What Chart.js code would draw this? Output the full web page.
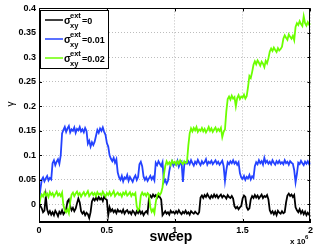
<!DOCTYPE html>
<html>
<head>
<meta charset="utf-8">
<script src="https://cdn.jsdelivr.net/npm/chart.js@4"></script>
<style>
  html, body { margin: 0; padding: 0; background: #fff; }
  #chartContainer { width: 316px; height: 248px; }
</style>
</head>
<body>
<div id="chartContainer"><canvas id="myChart" width="316" height="248"></canvas></div>
<script>
// sweep axis sampled every 0.01 (x 10^6 sweeps)
const sweepStep = 0.01;

// gamma for sigma_xy^ext = 0
const black = [
  0.002,-0.003,-0.008,-0.016,-0.013,0.016,-0.010,-0.019,-0.014,-0.021,
  -0.016,-0.022,-0.013,-0.018,-0.024,-0.015,-0.019,-0.012,-0.020,-0.016,
  -0.010,0.006,0.010,-0.004,-0.012,-0.007,-0.014,-0.009,0.002,0.012,
  0.004,-0.014,-0.019,-0.015,-0.022,-0.017,-0.020,-0.028,-0.016,0.006,
  0.012,0.008,0.014,0.009,0.015,0.010,0.013,0.007,0.016,0.011,
  0.009,-0.022,-0.006,-0.014,-0.010,-0.016,-0.012,-0.018,-0.011,-0.015,
  -0.013,-0.017,-0.011,-0.019,-0.014,-0.012,-0.018,-0.015,-0.020,-0.013,
  -0.016,-0.021,-0.014,-0.018,-0.012,-0.019,-0.015,-0.022,-0.017,-0.014,
  -0.018,0.012,0.018,0.014,0.020,0.016,0.019,0.013,0.017,0.015,
  0.010,-0.022,-0.018,-0.014,-0.019,-0.016,-0.021,-0.013,-0.017,-0.015,
  -0.019,-0.014,-0.018,-0.012,-0.017,-0.020,-0.015,-0.018,-0.013,-0.019,
  -0.016,-0.021,-0.014,-0.017,-0.019,-0.015,-0.018,-0.020,-0.016,0.014,
  0.018,0.013,0.019,0.015,0.021,0.016,0.012,0.018,0.014,0.020,
  0.015,0.019,0.013,0.017,0.020,0.014,0.018,0.016,0.012,0.019,
  0.015,0.013,0.017,0.012,-0.004,-0.008,-0.005,-0.010,-0.006,-0.003,
  0.012,0.018,0.015,-0.006,-0.011,-0.008,0.010,0.017,0.013,0.019,
  0.014,0.018,0.012,0.016,0.020,0.013,0.017,0.015,0.019,0.010,
  -0.012,-0.018,-0.014,-0.020,-0.015,-0.022,-0.013,-0.017,-0.019,-0.014,
  -0.018,-0.016,0.004,0.018,0.022,0.017,0.020,0.015,0.019,-0.006,
  -0.012,-0.016,-0.010,-0.018,-0.013,-0.020,-0.015,-0.022,-0.017,-0.021,
  -0.025
];

// gamma for sigma_xy^ext = 0.01
const blue = [
  0.005,0.030,0.050,0.055,0.047,0.053,0.058,0.049,0.054,0.051,
  0.084,0.090,0.080,0.087,0.092,0.083,0.100,0.145,0.152,0.158,
  0.148,0.155,0.160,0.147,0.153,0.150,0.157,0.146,0.154,0.151,
  0.158,0.149,0.153,0.147,0.156,0.150,0.124,0.130,0.118,0.127,
  0.121,0.128,0.140,0.152,0.146,0.155,0.150,0.157,0.148,0.142,
  0.125,0.118,0.100,0.093,0.088,0.095,0.085,0.092,0.065,0.055,
  0.050,0.058,0.047,0.055,0.052,0.060,0.048,0.056,0.051,0.046,
  0.054,0.059,0.050,0.056,0.082,0.087,0.078,0.057,0.050,0.055,
  0.048,0.053,0.058,0.051,0.056,0.049,0.085,0.080,0.088,0.083,
  0.078,0.086,0.045,0.050,0.042,0.048,0.068,0.082,0.088,0.079,
  0.085,0.081,0.089,0.077,0.084,0.087,0.046,0.080,0.086,0.083,
  0.088,0.082,0.090,0.084,0.079,0.087,0.083,0.091,0.085,0.080,
  0.088,0.083,0.086,0.092,0.081,0.087,0.084,0.089,0.082,0.086,
  0.090,0.083,0.087,0.081,0.085,0.089,0.078,0.048,0.070,0.086,
  0.082,0.088,0.084,0.090,0.083,0.087,0.081,0.086,0.064,0.055,
  0.052,0.058,0.050,0.056,0.053,0.060,0.051,0.057,0.054,0.078,
  0.086,0.082,0.090,0.084,0.088,0.081,0.095,0.085,0.089,0.083,
  0.087,0.082,0.090,0.085,0.081,0.088,0.084,0.089,0.083,0.086,
  0.082,0.090,0.084,0.087,0.081,0.088,0.085,0.083,0.070,0.045,
  0.062,0.085,0.082,0.089,0.084,0.080,0.087,0.083,0.088,0.082,
  0.085
];

// gamma for sigma_xy^ext = 0.02
const green = [
  -0.005,0.012,0.020,0.016,0.024,0.018,0.022,0.015,0.025,0.019,
  0.023,0.016,0.021,0.026,0.018,0.022,0.017,0.024,-0.002,-0.012,
  -0.016,-0.010,-0.018,0.005,0.020,0.024,0.017,0.022,0.026,0.019,
  0.023,0.016,0.021,0.025,0.018,0.022,0.027,0.017,0.021,0.024,
  0.019,0.023,0.017,0.025,0.020,0.022,0.018,0.026,0.021,0.016,
  0.023,0.019,0.025,0.018,0.022,0.027,0.017,0.021,0.024,0.019,
  0.022,0.016,0.024,0.020,0.026,0.018,0.021,0.025,0.017,0.022,
  0.019,0.023,-0.004,-0.012,-0.008,0.018,0.024,0.019,0.022,0.017,
  0.023,0.020,-0.006,-0.015,-0.010,-0.018,0.004,0.018,0.023,0.019,
  0.024,0.035,0.060,0.078,0.088,0.082,0.086,0.080,0.089,0.084,
  0.087,0.081,0.088,0.083,0.090,0.085,0.082,0.088,0.084,0.086,
  0.120,0.145,0.155,0.149,0.156,0.151,0.158,0.148,0.153,0.150,
  0.156,0.149,0.154,0.147,0.152,0.158,0.150,0.155,0.148,0.153,
  0.157,0.149,0.154,0.150,0.156,0.137,0.148,0.153,0.190,0.215,
  0.220,0.214,0.222,0.216,0.219,0.200,0.217,0.223,0.215,0.220,
  0.218,0.224,0.216,0.221,0.240,0.262,0.258,0.270,0.285,0.292,
  0.286,0.294,0.289,0.283,0.291,0.287,0.280,0.293,0.288,0.298,
  0.312,0.318,0.313,0.320,0.315,0.311,0.319,0.314,0.317,0.322,
  0.338,0.345,0.340,0.336,0.347,0.342,0.338,0.344,0.335,0.362,
  0.370,0.366,0.374,0.368,0.364,0.384,0.370,0.365,0.372,0.367,
  0.369
];

const seriesNames = ['=0', '=0.01', '=0.02'];
const xTicks = [0, 0.5, 1, 1.5, 2];
const xTickLabels = ['0', '0.5', '1', '1.5', '2'];
const yTicks = [0, 0.05, 0.1, 0.15, 0.2, 0.25, 0.3, 0.35, 0.4];
const yTickLabels = ['0', '0.05', '0.1', '0.15', '0.2', '0.25', '0.3', '0.35', '0.4'];

const colors = ['#000000', '#2442ff', '#6cff00'];
const tickFont = { family: 'Liberation Sans, Arial, sans-serif', size: 9, weight: 'bold' };

function toPoints(values) {
  return values.map((v, i) => ({ x: +(i * sweepStep).toFixed(2), y: v }));
}

// Box, inward tick marks, legend and axis titles like a MATLAB figure
const decorations = {
  id: 'decorations',
  afterDraw(chart) {
    const ctx = chart.ctx;
    const a = chart.chartArea;
    const xs = chart.scales.x, ys = chart.scales.y;
    ctx.save();
    ctx.strokeStyle = '#000';
    ctx.lineWidth = 1;
    ctx.strokeRect(Math.round(a.left) + 0.5, Math.round(a.top) + 0.5,
      Math.round(a.right - a.left) - 1, Math.round(a.bottom - a.top) - 1);

    ctx.beginPath();
    xTicks.forEach(t => {
      const px = Math.round(xs.getPixelForValue(t)) + 0.5;
      ctx.moveTo(px, a.bottom); ctx.lineTo(px, a.bottom - 3);
      ctx.moveTo(px, a.top); ctx.lineTo(px, a.top + 3);
    });
    yTicks.forEach(t => {
      const py = Math.round(ys.getPixelForValue(t)) + 0.5;
      ctx.moveTo(a.left, py); ctx.lineTo(a.left + 3, py);
      ctx.moveTo(a.right, py); ctx.lineTo(a.right - 3, py);
    });
    ctx.stroke();

    // legend
    ctx.fillStyle = '#fff';
    ctx.fillRect(40, 10, 68, 58);
    ctx.strokeStyle = '#000';
    ctx.strokeRect(40.5, 10.5, 68, 58);
    const rows = [20, 39, 58];
    rows.forEach((ly, i) => {
      ctx.strokeStyle = colors[i];
      ctx.lineWidth = 1.5;
      ctx.beginPath();
      ctx.moveTo(45, ly); ctx.lineTo(63, ly);
      ctx.stroke();
      ctx.fillStyle = '#000';
      ctx.textAlign = 'left';
      ctx.textBaseline = 'alphabetic';
      ctx.font = 'bold 10px Liberation Sans, Arial, sans-serif';
      ctx.fillText('σ', 64, ly + 4);
      ctx.font = 'bold 7.5px Liberation Sans, Arial, sans-serif';
      ctx.fillText('ext', 70, ly - 2);
      ctx.fillText('xy', 70, ly + 8);
      ctx.font = 'bold 9px Liberation Sans, Arial, sans-serif';
      ctx.fillText(seriesNames[i], 82, ly + 4);
    });

    // axis titles
    ctx.fillStyle = '#000';
    ctx.font = 'bold 14px Liberation Sans, Arial, sans-serif';
    ctx.textAlign = 'center';
    ctx.fillText('sweep', 171, 241);
    ctx.font = 'bold 8px Liberation Sans, Arial, sans-serif';
    ctx.textAlign = 'left';
    ctx.fillText('x 10', 290, 244);
    ctx.font = 'bold 6px Liberation Sans, Arial, sans-serif';
    ctx.fillText('6', 305, 239);

    ctx.translate(11, 104);
    ctx.rotate(-Math.PI / 2);
    ctx.font = '10px Liberation Sans, Arial, sans-serif';
    ctx.textAlign = 'center';
    ctx.textBaseline = 'middle';
    ctx.fillText('γ', 0, 0);
    ctx.restore();
  }
};

window.onload = function() {
  const ctx = document.getElementById('myChart').getContext('2d');
  new Chart(ctx, {
    type: 'line',
    data: {
      datasets: [
        { label: seriesNames[0], data: toPoints(black), borderColor: colors[0], order: 2 },
        { label: seriesNames[1], data: toPoints(blue), borderColor: colors[1], order: 1 },
        { label: seriesNames[2], data: toPoints(green), borderColor: colors[2], order: 0 }
      ].map(d => Object.assign(d, { borderWidth: 1.8, pointRadius: 0, tension: 0, fill: false }))
    },
    options: {
      responsive: false,
      animation: false,
      events: [],
      layout: { padding: { left: 0, right: 3, top: 8, bottom: 0 } },
      plugins: { legend: { display: false }, tooltip: { enabled: false } },
      scales: {
        x: {
          type: 'linear', min: 0, max: 2,
          afterBuildTicks: s => { s.ticks = xTicks.map(v => ({ value: v })); },
          afterFit: s => { s.height = 26; },
          ticks: {
            font: tickFont, color: '#000', padding: 3, maxRotation: 0,
            callback: v => xTickLabels[xTicks.indexOf(v)]
          },
          grid: { color: '#bdbdbd', drawTicks: false, lineWidth: 1 },
          border: { display: true, color: '#000', width: 1, dash: [1, 2] }
        },
        y: {
          type: 'linear', min: -0.036, max: 0.4,
          afterBuildTicks: s => { s.ticks = yTicks.map(v => ({ value: v })); },
          afterFit: s => { s.width = 39; },
          ticks: {
            font: tickFont, color: '#000', padding: 3,
            callback: v => yTickLabels[yTicks.indexOf(v)]
          },
          grid: { color: '#bdbdbd', drawTicks: false, lineWidth: 1 },
          border: { display: true, color: '#000', width: 1, dash: [1, 2] }
        }
      }
    },
    plugins: [decorations]
  });
};
</script>
</body>
</html>
